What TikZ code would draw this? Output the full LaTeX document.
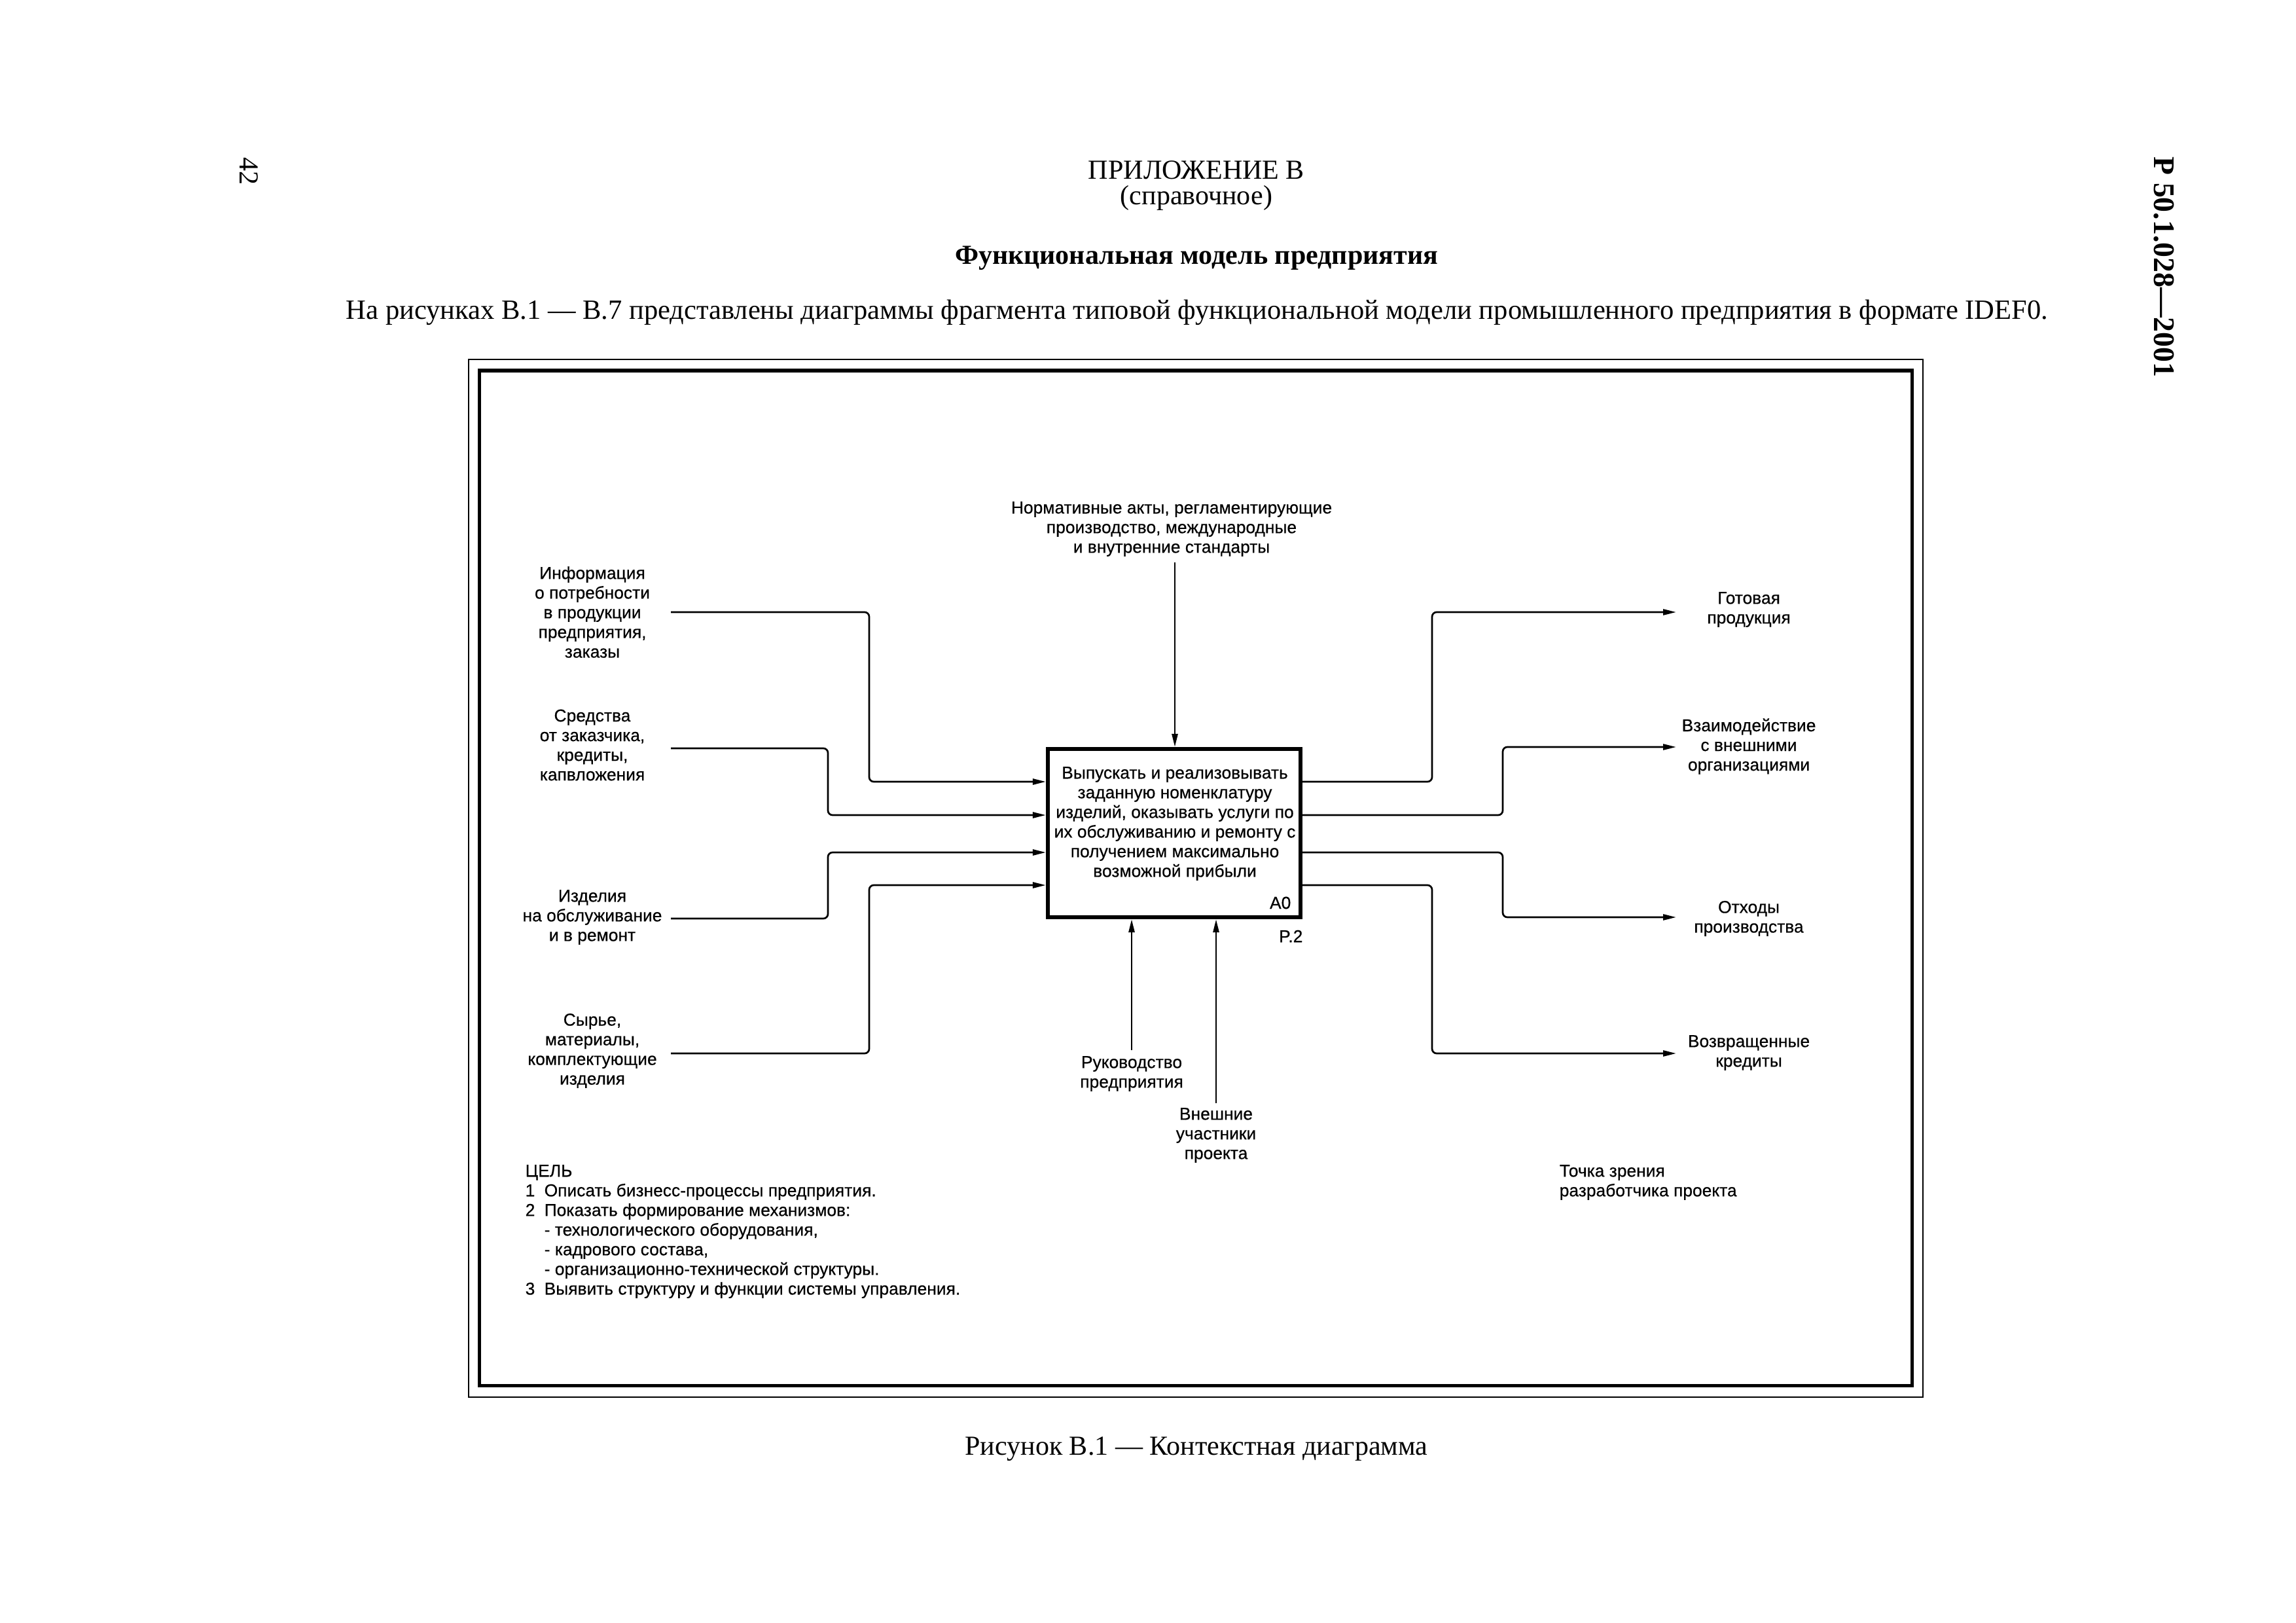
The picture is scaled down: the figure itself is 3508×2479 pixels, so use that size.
\documentclass[tikz,border=0pt]{standalone}
\usepackage{fontspec}
\setmainfont{Liberation Serif}
\newfontfamily\diafont[FakeBold=0.5]{Liberation Sans}
\usetikzlibrary{arrows.meta}
\begin{document}
\begin{tikzpicture}[x=0.01cm,y=-0.01cm,
  lbl/.style={font=\diafont\fontsize{7.5}{8.54}\selectfont, align=center, inner sep=0pt},
  conn/.style={line width=0.027cm, rounded corners=0.07cm},
  arr/.style={conn, -{Triangle[length=0.2cm,width=0.09cm]}},
  hdr/.style={font=\fontsize{11.95}{14}\selectfont, inner sep=0pt},
  hdrb/.style={font=\bfseries\fontsize{11.95}{14}\selectfont, inner sep=0pt}]
\useasboundingbox (0,0) rectangle (3508,2479);
\fill[white] (0,0) rectangle (3508,2479);

% page header
\node[hdr, rotate=-90] (pg) at (380,262) {42};
\node[hdr] (app) at (1828,260) {ПРИЛОЖЕНИЕ В};
\node[hdr] (ref) at (1828,302) {(справочное)};
\node[hdrb] (ttl) at (1828,394) {Функциональная модель предприятия};
\node[inner sep=0pt, font=\fontsize{12.1}{14}\selectfont] (intro) at (1829,477) {На рисунках В.1 — В.7 представлены диаграммы фрагмента типовой функциональной модели промышленного предприятия в формате IDEF0.};
\node[inner sep=0pt, rotate=-90, font=\bfseries\fontsize{13}{15}\selectfont] (std) at (3306,408) {Р 50.1.028—2001};
\node[hdr] (cap) at (1828,2213) {Рисунок В.1 — Контекстная диаграмма};

% frames
\draw[line width=0.028cm] (716,549) rectangle (2938,2134);
\draw[line width=0.05cm] (732,566) rectangle (2921,2116);

% main box
\node[draw, line width=0.06cm, minimum width=3.86cm, minimum height=2.57cm, inner sep=0pt] (A0box) at (1794,1272.5) {};
\node[lbl] (A0txt) at (1795,1258) {Выпускать и реализовывать\\заданную номенклатуру\\изделий, оказывать услуги по\\их обслуживанию и ремонту с\\получением максимально\\возможной прибыли};
\node[lbl, anchor=east] (A0num) at (1973,1379) {A0};
\node[lbl, anchor=east] (P2) at (1991,1430) {P.2};

% control
\node[lbl] (ctrl) at (1790,808) {Нормативные акты, регламентирующие\\производство, международные\\и внутренние стандарты};
\coordinate (c1) at (1795,859);
\draw[arr] (c1) -- (A0box.north -| c1);

% inputs
\node[lbl] (in1) at (905,935) {Информация\\о потребности\\в продукции\\предприятия,\\заказы};
\node[lbl] (in2) at (905,1138) {Средства\\от заказчика,\\кредиты,\\капвложения};
\node[lbl] (in3) at (905,1401) {Изделия\\на обслуживание\\и в ремонт};
\node[lbl] (in4) at (905,1605) {Сырье,\\материалы,\\комплектующие\\изделия};
\coordinate (i1) at (1025,935);
\coordinate (i2) at (1025,1143);
\coordinate (i3) at (1025,1403);
\coordinate (i4) at (1025,1609);
\draw[arr] (i1) -- (1328,935) -- (1328,1194) -- (A0box.west |- 0,1194);
\draw[arr] (i2) -- (1265,1143) -- (1265,1245) -- (A0box.west |- 0,1245);
\draw[arr] (i3) -- (1265,1403) -- (1265,1302) -- (A0box.west |- 0,1302);
\draw[arr] (i4) -- (1328,1609) -- (1328,1352) -- (A0box.west |- 0,1352);

% outputs
\coordinate (o1) at (2561,935);
\coordinate (o2) at (2561,1141);
\coordinate (o3) at (2561,1401);
\coordinate (o4) at (2561,1609);
\draw[arr] (A0box.east |- 0,1194) -- (2188,1194) -- (2188,935) -- (o1);
\draw[arr] (A0box.east |- 0,1245) -- (2296,1245) -- (2296,1141) -- (o2);
\draw[arr] (A0box.east |- 0,1302) -- (2296,1302) -- (2296,1401) -- (o3);
\draw[arr] (A0box.east |- 0,1352) -- (2188,1352) -- (2188,1609) -- (o4);
\node[lbl] (out1) at (2672,931) {Готовая\\продукция};
\node[lbl] (out2) at (2672,1140) {Взаимодействие\\с внешними\\организациями};
\node[lbl] (out3) at (2672,1403) {Отходы\\производства};
\node[lbl] (out4) at (2672,1608) {Возвращенные\\кредиты};

% mechanisms
\coordinate (m1) at (1729,1604);
\coordinate (m2) at (1858,1685);
\draw[arr] (m1) -- (A0box.south -| m1);
\draw[arr] (m2) -- (A0box.south -| m2);
\node[lbl] (mech1) at (1729,1640) {Руководство\\предприятия};
\node[lbl] (mech2) at (1858,1734) {Внешние\\участники\\проекта};

% goal and viewpoint
\node[lbl, align=left, anchor=west] (goal) at (802,1881) {ЦЕЛЬ\\
\makebox[0.29cm][l]{1}Описать бизнесс-процессы предприятия.\\
\makebox[0.29cm][l]{2}Показать формирование механизмов:\\
\hspace*{0.29cm}- технологического оборудования,\\
\hspace*{0.29cm}- кадрового состава,\\
\hspace*{0.29cm}- организационно-технической структуры.\\
\makebox[0.29cm][l]{3}Выявить структуру и функции системы управления.};
\node[lbl, align=left, anchor=west] (view) at (2382,1806) {Точка зрения\\разработчика проекта};
\end{tikzpicture}
\end{document}
